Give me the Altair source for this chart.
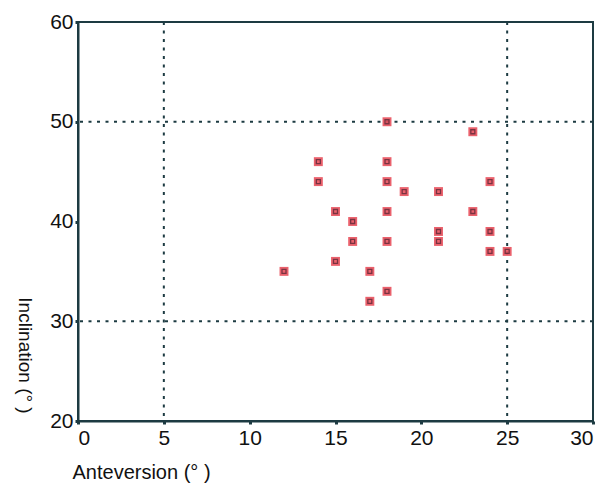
import altair as alt
import pandas as pd

anteversion = [18, 23, 14, 18, 14, 18, 24, 19, 21, 15, 18, 23, 16, 16, 18, 21, 21, 24, 24, 25, 15, 12, 17, 18, 17]
inclination = [50, 49, 46, 46, 44, 44, 44, 43, 43, 41, 41, 41, 40, 38, 38, 39, 38, 39, 37, 37, 36, 35, 35, 33, 32]
x_ticks = [0, 5, 10, 15, 20, 25, 30]
y_ticks = [20, 30, 40, 50, 60]
x_refs = [5, 25]
y_refs = [30, 50]

df = pd.DataFrame({"a": anteversion, "i": inclination})
dfx = pd.DataFrame({"v": x_refs})
dfy = pd.DataFrame({"v": y_refs})

FONT = "Liberation Sans, Arial, sans-serif"
DARK = "#1d3b42"

xs = alt.Scale(domain=[0, 30], nice=False)
ys = alt.Scale(domain=[20, 60], nice=False)

xax = alt.Axis(values=x_ticks, title="Anteversion (° )", grid=False, tickSize=3, tickWidth=3,
               tickColor=DARK, domainColor=DARK, domainWidth=2, labelFontSize=21, labelFont=FONT,
               labelColor="#111", labelPadding=3, titleFont=FONT, titleFontSize=20, titleFontWeight="normal",
               titleColor="#111", titleAlign="left", titleBaseline="alphabetic", titleX=-6, titleY=57)
yax = alt.Axis(values=y_ticks, title="Inclination (° )", grid=False, tickSize=3, tickWidth=3,
               tickColor=DARK, domainColor=DARK, domainWidth=2, labelFontSize=21, labelFont=FONT,
               labelColor="#111", labelPadding=2, titleFont=FONT, titleFontSize=19, titleFontWeight="normal",
               titleColor="#111", titleAngle=90, titleAlign="center", titleBaseline="middle",
               titleX=-54, titleY=333)

vr = alt.Chart(dfx).mark_rule(color=DARK, strokeWidth=2, strokeDash=[3, 5.5]).encode(
    x=alt.X("v:Q", scale=xs, axis=xax))
hr = alt.Chart(dfy).mark_rule(color=DARK, strokeWidth=2, strokeDash=[3, 5.5]).encode(
    y=alt.Y("v:Q", scale=ys, axis=yax))

pts = alt.Chart(df).mark_square(size=80, color="#e8505c", opacity=0.9).encode(
    x=alt.X("a:Q", scale=xs, axis=xax), y=alt.Y("i:Q", scale=ys, axis=yax))
inner = alt.Chart(df).mark_point(shape="square", size=16, filled=False, stroke="#4a2030", strokeWidth=1.3).encode(
    x=alt.X("a:Q", scale=xs, axis=xax), y=alt.Y("i:Q", scale=ys, axis=yax))

chart = alt.layer(vr, hr, pts, inner).properties(
    width=515, height=399,
    autosize=alt.AutoSizeParams(type="none"),
    padding={"left": 70, "top": 14, "right": 12, "bottom": 66},
    background="white",
).configure_view(stroke=DARK, strokeWidth=2)

chart.save("out.html", embed_options={"renderer": "svg", "actions": False})
